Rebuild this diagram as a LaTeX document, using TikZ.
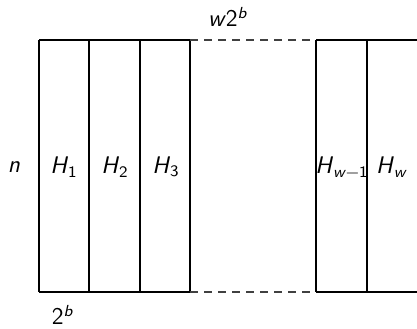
\documentclass[tikz,border=0pt]{standalone}
\newcommand{\Hsub}[2]{\textit{#1}\textsubscript{#2}}
\begin{document}
\begin{tikzpicture}[x=0.5pt,y=-0.5pt,
  edge/.style={line width=0.7pt,black},
  dashedge/.style={line width=0.7pt,black!75,dash pattern=on 4pt off 3pt},
  lbl/.style={font=\sffamily\large,inner sep=0pt}]
\useasboundingbox (0,0) rectangle (417,328);
% corner coordinates
\foreach \x/\n in {39/a,89/b,140/c,190/d,316/e,367/f,417.5/g}{
  \coordinate (t\n) at (\x,40);
  \coordinate (b\n) at (\x,292);
  \draw[edge] (t\n) -- (b\n);
}
\draw[edge] (ta) -- (td);
\draw[dashedge] (td) -- (te);
\draw[edge] (te) -- (tg);
\draw[edge] (ba) -- (bd);
\draw[dashedge] (bd) -- (be);
\draw[edge] (be) -- (bg);
% labels
\node[lbl] (n) at (14,167) {\textit{n}};
\node[lbl] (h1) at (64,167) {\Hsub{H}{1}};
\node[lbl] (h2) at (115,167) {\Hsub{H}{2}};
\node[lbl] (h3) at (166,167) {\Hsub{H}{3}};
\node[lbl] (hw1) at (342,167) {\Hsub{H}{\textit{w}\char"2212 1}};
\node[lbl] (hw) at (392,167) {\Hsub{H}{\textit{w}}};
\node[lbl] (top) at (228,17) {\textit{w}2\textsuperscript{\textit{b}}};
\node[lbl] (bot) at (63,315) {2\textsuperscript{\textit{b}}};
\end{tikzpicture}
\end{document}
